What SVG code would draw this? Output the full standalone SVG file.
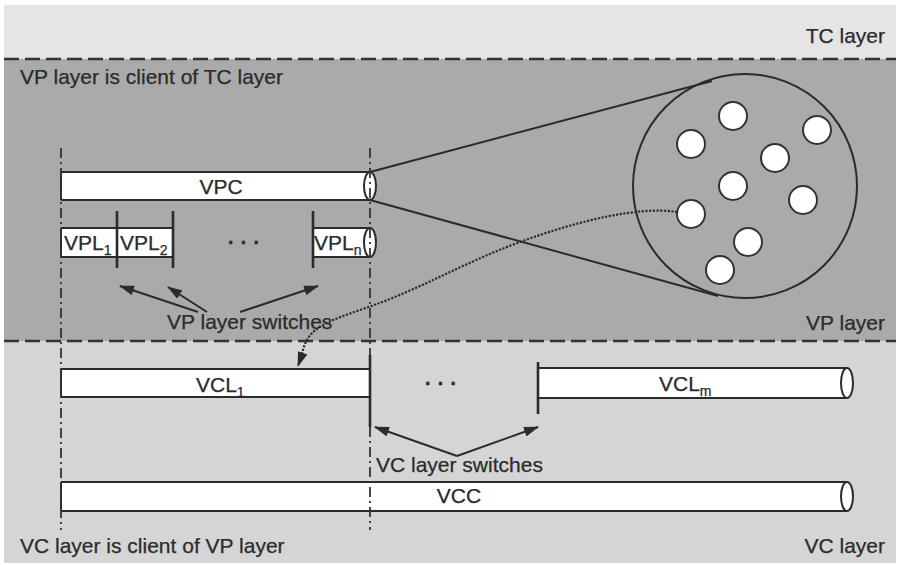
<svg xmlns="http://www.w3.org/2000/svg" width="900" height="565" viewBox="0 0 900 565">
<defs>
<style>
.t{font-family:"Liberation Sans",Arial,sans-serif;font-size:21px;fill:#2b2b2b;stroke:#2b2b2b;stroke-width:0.25}
.s{font-size:14px}
.d{font-weight:bold}
.ln{stroke:#2b2b2b;stroke-width:2;fill:none}
.sw{stroke:#2b2b2b;stroke-width:2.6;fill:none}
.bar{fill:#fff;stroke:none}
.end{fill:#fff;stroke:#2b2b2b;stroke-width:2}
.dash{stroke:#333;stroke-width:2.6;stroke-dasharray:15 6;fill:none}
.dd{stroke:#333;stroke-width:1.8;stroke-dasharray:10 4 2 4;fill:none}
.dot{stroke:#2b2b2b;stroke-width:2.2;stroke-dasharray:2.2 1.5;fill:none}
.sm{fill:#fff;stroke:#333;stroke-width:2}
</style>
<marker id="ah" viewBox="0 0 15 10" refX="14" refY="5" markerWidth="15" markerHeight="10" markerUnits="userSpaceOnUse" orient="auto">
<path d="M0,0 L15,5 L0,10 z" fill="#2b2b2b"/>
</marker>
</defs>
<rect width="900" height="565" fill="#fff"/>
<g id="bands">
<rect x="4" y="5" width="892" height="54" fill="#e5e5e5"/>
<rect x="4" y="59" width="892" height="282" fill="#aaaaaa"/>
<rect x="4" y="341" width="892" height="222" fill="#d5d5d5"/>
<line class="dash" x1="4" y1="59" x2="896" y2="59"/>
<line class="dash" x1="4" y1="341" x2="896" y2="341"/>
</g>
<g id="layer-labels">
<text class="t" x="885" y="43" text-anchor="end">TC layer</text>
<text class="t" x="20" y="84">VP layer is client of TC layer</text>
<text class="t" x="885" y="330" text-anchor="end">VP layer</text>
<text class="t" x="20" y="553">VC layer is client of VP layer</text>
<text class="t" x="885" y="553" text-anchor="end">VC layer</text>
</g>
<g id="zoom-circle">
<line class="ln" x1="370" y1="172" x2="712" y2="81"/>
<line class="ln" x1="370" y1="200" x2="718" y2="296"/>
<circle class="ln" cx="745" cy="186" r="112"/>
<circle class="sm" cx="733" cy="116" r="14"/>
<circle class="sm" cx="817" cy="130" r="14"/>
<circle class="sm" cx="691" cy="144" r="14"/>
<circle class="sm" cx="775" cy="158" r="14"/>
<circle class="sm" cx="733" cy="186" r="14"/>
<circle class="sm" cx="803" cy="200" r="14"/>
<circle class="sm" cx="691" cy="214" r="14"/>
<circle class="sm" cx="748" cy="242" r="14"/>
<circle class="sm" cx="720" cy="270" r="14"/>
</g>
<g id="VPC">
<rect class="bar" x="61" y="172" width="309" height="28"/>
<path class="ln" d="M61,172 H370 M61,200 H370 M61,172 V200"/>
<ellipse class="end" cx="370" cy="186" rx="6" ry="14"/>
<text class="t" x="221" y="194" text-anchor="middle">VPC</text>
</g>
<g id="VPL1">
<rect class="bar" x="61" y="228" width="56" height="29"/>
<path class="ln" d="M61,228 H117 M61,257 H117 M61,228 V257"/>
<text class="t" x="64" y="250">VPL<tspan class="s" dy="5">1</tspan></text>
</g>
<g id="VPL2">
<rect class="bar" x="117" y="228" width="56" height="29"/>
<path class="ln" d="M117,228 H173 M117,257 H173"/>
<text class="t" x="120" y="250">VPL<tspan class="s" dy="5">2</tspan></text>
</g>
<g id="VPLn">
<rect class="bar" x="313" y="228" width="57" height="29"/>
<path class="ln" d="M313,228 H370 M313,257 H370"/>
<ellipse class="end" cx="370" cy="242.5" rx="6" ry="14.5"/>
<text class="t" x="314" y="250">VPL<tspan class="s" dy="5">n</tspan></text>
</g>
<text class="t d" x="244" y="249" text-anchor="middle">· · ·</text>
<g id="VP-switches">
<line class="sw" x1="117" y1="211" x2="117" y2="268"/>
<line class="sw" x1="173" y1="211" x2="173" y2="268"/>
<line class="sw" x1="313" y1="211" x2="313" y2="268"/>
<text class="t" x="167" y="329">VP layer switches</text>
</g>
<g id="VCL1">
<rect class="bar" x="61" y="369" width="309" height="28"/>
<path class="ln" d="M61,369 H370 M61,397 H370 M61,369 V397"/>
<text class="t" x="196" y="392">VCL<tspan class="s" dy="5">1</tspan></text>
</g>
<text class="t d" x="441" y="390" text-anchor="middle">· · ·</text>
<g id="VCLm">
<rect class="bar" x="538" y="368" width="309" height="30"/>
<path class="ln" d="M538,368 H847 M538,398 H847"/>
<ellipse class="end" cx="847" cy="383" rx="6" ry="15"/>
<text class="t" x="659" y="391">VCL<tspan class="s" dy="5">m</tspan></text>
</g>
<g id="VC-switches">
<line class="sw" x1="370" y1="355" x2="370" y2="427"/>
<line class="sw" x1="538" y1="362" x2="538" y2="414"/>
<text class="t" x="376" y="472">VC layer switches</text>
</g>
<g id="VCC">
<rect class="bar" x="61" y="482" width="786" height="29"/>
<path class="ln" d="M61,482 H847 M61,511 H847 M61,482 V511"/>
<ellipse class="end" cx="847" cy="496.5" rx="6" ry="14.5"/>
<text class="t" x="459" y="503" text-anchor="middle">VCC</text>
</g>
<g id="connectors">
<line class="dd" x1="61" y1="148" x2="61" y2="530"/>
<line class="dd" x1="370" y1="148" x2="370" y2="355"/>
<line class="dd" x1="370" y1="427" x2="370" y2="530"/>
<line class="ln" x1="198" y1="312" x2="120" y2="286" marker-end="url(#ah)"/>
<line class="ln" x1="207" y1="312" x2="168" y2="287" marker-end="url(#ah)"/>
<line class="ln" x1="240" y1="312" x2="318" y2="286" marker-end="url(#ah)"/>
<line class="ln" x1="457" y1="456" x2="375" y2="427" marker-end="url(#ah)"/>
<line class="ln" x1="457" y1="456" x2="538" y2="427" marker-end="url(#ah)"/>
<path class="dot" d="M677,212 C640,206 580,220 520,242 S420,290 360,310 S308,338 298,366" marker-end="url(#ah)"/>
</g>
</svg>
